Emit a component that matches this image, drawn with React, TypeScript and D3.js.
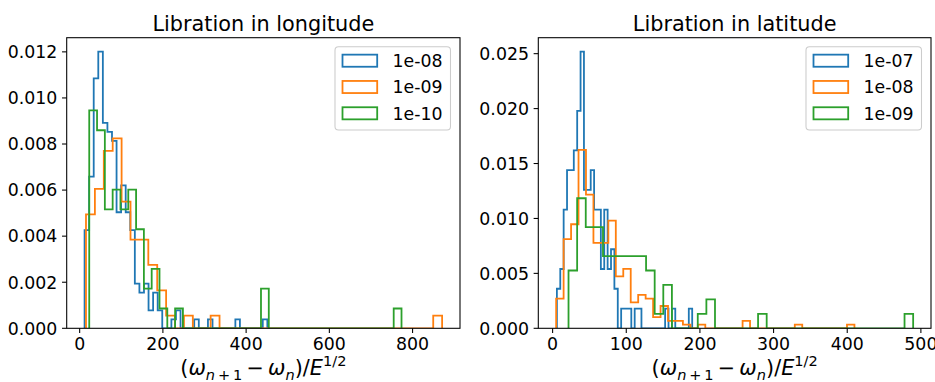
import React from "react";
import * as d3 from "d3";

const FONT = "'DejaVu Sans', sans-serif";
const COLORS = ["#1f77b4", "#ff7f0e", "#2ca02c"];

// ---- Libration in longitude (40 bins per series, each spanning its own min..max) ----
const lonLabels = ["1e-08", "1e-09", "1e-10"];
const lonMin = [11.8, 15.2, 23.0];
const lonMax = [451.0, 871.0, 773.4];
const lonCounts08 = [11, 17, 28, 31, 23, 22, 21, 13, 16, 13, 11, 5, 4, 5, 2, 4, 2, 0, 0, 1, 2, 0, 0, 0, 1, 0, 0, 1, 0, 0, 0, 0, 0, 1, 0, 0, 0, 0, 0, 1];
const lonCounts09 = [9, 11, 14, 15, 10, 7, 7, 5, 3, 1, 0, 1, 0, 0, 1, 0, 0, 0, 0, 0, 0, 0, 0, 0, 0, 0, 0, 0, 0, 0, 0, 0, 0, 0, 0, 0, 0, 0, 0, 1];
const lonCounts10 = [11, 10, 6, 7, 6, 7, 5, 2, 3, 1, 0, 1, 0, 0, 0, 0, 0, 0, 0, 0, 0, 0, 2, 0, 0, 0, 0, 0, 0, 0, 0, 0, 0, 0, 0, 0, 0, 0, 0, 1];
const lonTicksX = [0, 200, 400, 600, 800];
const lonTicksY = [0, 0.002, 0.004, 0.006, 0.008, 0.01, 0.012];

// ---- Libration in latitude ----
const latLabels = ["1e-07", "1e-08", "1e-09"];
const latMin = [5.8, 4.8, 21.6];
const latMax = [189.5, 409.8, 489.5];
const latCounts07 = [2, 3, 6, 8, 8, 9, 11, 14, 7, 7, 8, 6, 6, 3, 6, 3, 4, 2, 0, 1, 1, 1, 0, 1, 1, 0, 0, 0, 0, 0, 0, 0, 1, 0, 1, 0, 0, 0, 0, 1];
const latCounts08 = [8, 24, 28, 48, 36, 23, 23, 29, 14, 16, 7, 9, 8, 3, 6, 2, 2, 1, 0, 1, 0, 0, 0, 0, 0, 2, 0, 0, 0, 0, 0, 0, 1, 0, 0, 0, 0, 0, 0, 1];
const latCounts09 = [4, 9, 7, 7, 5, 5, 5, 5, 5, 4, 1, 3, 0, 0, 0, 1, 2, 0, 0, 0, 0, 0, 1, 0, 0, 0, 0, 0, 0, 0, 0, 0, 0, 0, 0, 0, 0, 0, 0, 1];
const latTicksX = [0, 100, 200, 300, 400, 500];
const latTicksY = [0, 0.005, 0.01, 0.015, 0.02, 0.025];

const FS = 17.33;
const TITLE_FS = 20.8;
const TICK_LEN = 4.67;
const TICK_PAD = 4.67;

function XLabel({ cx, y }: { cx: number; y: number }) {
  const fs = 20.8;
  const s = fs * 0.7;
  const sub = 0.22 * fs;
  const sup = 0.42 * fs;
  return (
    <text x={cx} y={y} textAnchor="middle" fontSize={fs} fontFamily={FONT} fill="#000">
      <tspan>{"("}</tspan>
      <tspan fontStyle="italic">{"ω"}</tspan>
      <tspan fontSize={s} dy={sub} fontStyle="italic">{"n"}</tspan>
      <tspan fontSize={s}>{"\u2009+\u20091"}</tspan>
      <tspan dy={-sub}>{"\u2009−\u2009"}</tspan>
      <tspan fontStyle="italic">{"ω"}</tspan>
      <tspan fontSize={s} dy={sub} fontStyle="italic">{"n"}</tspan>
      <tspan dy={-sub}>{")/"}</tspan>
      <tspan fontStyle="italic">{"E"}</tspan>
      <tspan fontSize={s} dy={-sup}>{"1/2"}</tspan>
    </text>
  );
}

type PanelProps = {
  left: number;
  right: number;
  top: number;
  bottom: number;
  title: string;
  labels: string[];
  mins: number[];
  maxs: number[];
  counts: number[][];
  xTicks: number[];
  yTicks: number[];
};

function Panel({ left, right, top, bottom, title, labels, mins, maxs, counts, xTicks, yTicks }: PanelProps) {
  const hists = counts.map((c, i) => {
    const n = d3.sum(c);
    const nb = c.length;
    const w = (maxs[i] - mins[i]) / nb;
    const edges = d3.range(nb + 1).map((k) => mins[i] + w * k);
    const dens = c.map((v) => v / (n * w));
    return { edges, dens };
  });
  const dmin = d3.min(mins) as number;
  const dmax = d3.max(maxs) as number;
  const pad = 0.05 * (dmax - dmin);
  const x = d3.scaleLinear().domain([dmin - pad, dmax + pad]).range([left, right]);
  const ymaxData = d3.max(hists, (h) => d3.max(h.dens)) as number;
  const y = d3.scaleLinear().domain([0, ymaxData * 1.05]).range([bottom, top]);
  const line = d3.line<[number, number]>().x((d) => x(d[0])).y((d) => y(d[1]));
  const fmtY = d3.format(".3f");

  const paths = hists.map((h) => {
    const pts: [number, number][] = [[h.edges[0], 0]];
    h.dens.forEach((v, k) => {
      pts.push([h.edges[k], v]);
      pts.push([h.edges[k + 1], v]);
    });
    pts.push([h.edges[h.edges.length - 1], 0]);
    return line(pts) as string;
  });

  const legW = 115.5;
  const legH = 83.3;
  const legX = right - 9.5 - legW;
  const legY = top + 9;
  const rowY = [legY + 14, legY + 40.3, legY + 66.6];

  return (
    <g>
      <defs>
        <clipPath id={`clip-${left}`}>
          <rect x={left} y={top} width={right - left} height={bottom - top} />
        </clipPath>
      </defs>
      <g clipPath={`url(#clip-${left})`}>
        {paths.map((p, i) => (
          <path key={i} d={p} fill="none" stroke={COLORS[i]} strokeWidth={1.8} strokeLinejoin="miter" />
        ))}
      </g>
      {/* spines */}
      <rect x={left} y={top} width={right - left} height={bottom - top} fill="none" stroke="#000" strokeWidth={1.07} />
      {/* x ticks */}
      {xTicks.map((t) => (
        <g key={`x${t}`}>
          <line x1={x(t)} x2={x(t)} y1={bottom} y2={bottom + TICK_LEN} stroke="#000" strokeWidth={1.07} />
          <text x={x(t)} y={bottom + TICK_LEN + TICK_PAD + 12.7} textAnchor="middle" fontSize={FS} fontFamily={FONT} fill="#000">
            {String(t)}
          </text>
        </g>
      ))}
      {/* y ticks */}
      {yTicks.map((t) => (
        <g key={`y${t}`}>
          <line x1={left - TICK_LEN} x2={left} y1={y(t)} y2={y(t)} stroke="#000" strokeWidth={1.07} />
          <text x={left - TICK_LEN - TICK_PAD} y={y(t) + 6.3} textAnchor="end" fontSize={FS} fontFamily={FONT} fill="#000">
            {fmtY(t)}
          </text>
        </g>
      ))}
      {/* title */}
      <text x={(left + right) / 2} y={30.5} textAnchor="middle" fontSize={TITLE_FS} fontFamily={FONT} fill="#000">
        {title}
      </text>
      <XLabel cx={(left + right) / 2} y={375} />
      {/* legend */}
      <rect x={legX} y={legY} width={legW} height={legH} rx={3.5} ry={3.5} fill="#fff" fillOpacity={0.8} stroke="#cccccc" strokeWidth={1.07} />
      {labels.map((lab, i) => (
        <g key={lab}>
          <rect x={legX + 7.5} y={rowY[i] - 6.05} width={34.7} height={12.1} fill="none" stroke={COLORS[i]} strokeWidth={1.8} />
          <text x={legX + 57.5} y={rowY[i] + 6.2} fontSize={FS} fontFamily={FONT} fill="#000">
            {lab}
          </text>
        </g>
      ))}
    </g>
  );
}

export default function App() {
  return (
    <div>
      <style>{`body{margin:0;}`}</style>
      <svg width={935} height={382} viewBox="0 0 935 382" style={{ display: "block", background: "#fff" }}>
        <rect x={0} y={0} width={935} height={382} fill="#fff" />
        <Panel
          left={66.7}
          right={460}
          top={37.7}
          bottom={328.3}
          title="Libration in longitude"
          labels={lonLabels}
          mins={lonMin}
          maxs={lonMax}
          counts={[lonCounts08, lonCounts09, lonCounts10]}
          xTicks={lonTicksX}
          yTicks={lonTicksY}
        />
        <Panel
          left={538.3}
          right={931}
          top={37.7}
          bottom={328.3}
          title="Libration in latitude"
          labels={latLabels}
          mins={latMin}
          maxs={latMax}
          counts={[latCounts07, latCounts08, latCounts09]}
          xTicks={latTicksX}
          yTicks={latTicksY}
        />
      </svg>
    </div>
  );
}
